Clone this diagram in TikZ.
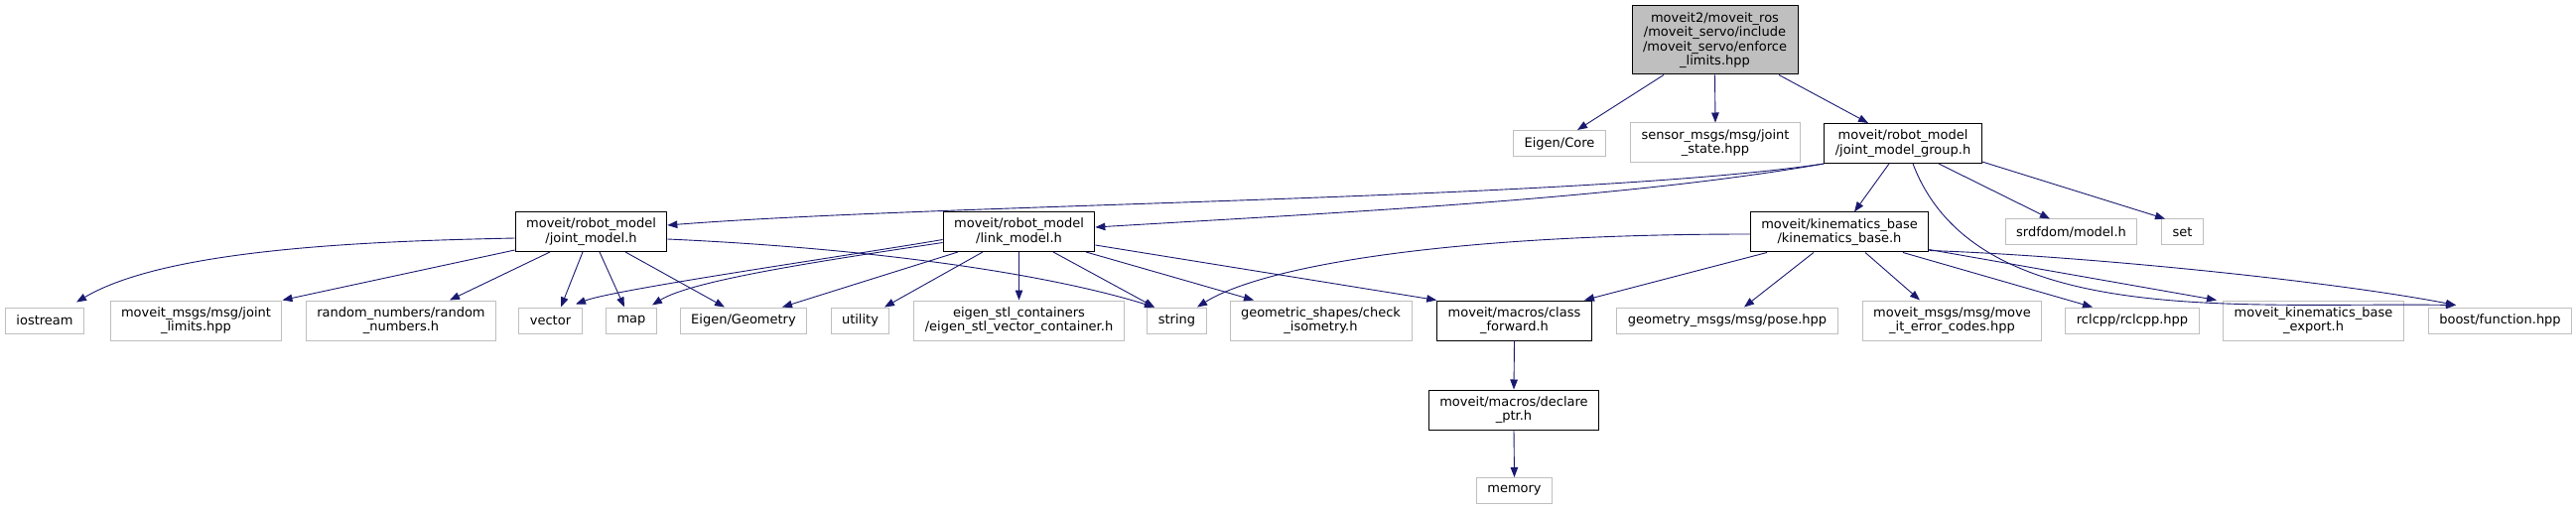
\documentclass[tikz,border=0pt]{standalone}
\usepackage{fontspec}
\setmainfont{DejaVu Sans}
\usetikzlibrary{arrows.meta}
\definecolor{edgeblue}{HTML}{191970}
\definecolor{extgray}{HTML}{BFBFBF}
\definecolor{rootgray}{HTML}{BFBFBF}

\begin{document}
\begin{tikzpicture}[x=1pt,y=-1pt]%
        \tikzset{%
            file/.style={rectangle, align=center, inner xsep=11pt, inner ysep=6pt,
                minimum height=26pt, line width=1pt, font=\fontsize{13}{14.3}\selectfont},
            two lines/.style={minimum height=40pt},
            doc file/.style={file, draw=black},
            ext file/.style={file, draw=extgray},
            dep/.style={draw=edgeblue, line width=0.9pt, -{Triangle[length=10pt,width=7.5pt]}},
        }%
        \useasboundingbox (0,0) rectangle (2595,513);
        % the header itself
        \node[doc file, fill=rootgray, minimum height=69pt] (root) at (1727.5,40.5)
            {moveit2/moveit\_ros\\/moveit\_servo/include\\/moveit\_servo/enforce\\\_limits.hpp};
        % first level
        \node[ext file] (core) at (1571,144.5) {Eigen/Core};
        \node[ext file, two lines] (sensor) at (1728,144) {sensor\_msgs/msg/joint\\\_state.hpp};
        \node[doc file, two lines] (jmg) at (1917,144.5) {moveit/robot\_model\\/joint\_model\_group.h};
        % second level
        \node[doc file, two lines] (jm) at (595.5,233.5) {moveit/robot\_model\\/joint\_model.h};
        \node[doc file, two lines] (lm) at (1026.5,233.5) {moveit/robot\_model\\/link\_model.h};
        \node[doc file, two lines] (kin) at (1853,234) {moveit/kinematics\_base\\/kinematics\_base.h};
        \node[ext file] (srdf) at (2086.5,234) {srdfdom/model.h};
        \node[ext file] (set) at (2198.5,234) {set};
        % third level
        \node[ext file] (iostream) at (45,323) {iostream};
        \node[ext file, two lines] (limits) at (197.5,323) {moveit\_msgs/msg/joint\\\_limits.hpp};
        \node[ext file, two lines] (random) at (404,323) {random\_numbers/random\\\_numbers.h};
        \node[ext file] (vector) at (554.5,323) {vector};
        \node[ext file] (map) at (636,323) {map};
        \node[ext file] (geometry) at (749,323) {Eigen/Geometry};
        \node[ext file] (utility) at (866.5,323) {utility};
        \node[ext file, two lines] (eigenstl) at (1026.5,323) {eigen\_stl\_containers\\/eigen\_stl\_vector\_container.h};
        \node[ext file] (string) at (1185.5,323) {string};
        \node[ext file, two lines] (isometry) at (1330.5,323) {geometric\_shapes/check\\\_isometry.h};
        \node[doc file, two lines] (classfwd) at (1525.5,323) {moveit/macros/class\\\_forward.h};
        \node[ext file] (pose) at (1740,323) {geometry\_msgs/msg/pose.hpp};
        \node[ext file, two lines] (errcodes) at (1966.5,323) {moveit\_msgs/msg/move\\\_it\_error\_codes.hpp};
        \node[ext file] (rclcpp) at (2148,323) {rclcpp/rclcpp.hpp};
        \node[ext file, two lines] (export) at (2330.5,323) {moveit\_kinematics\_base\\\_export.h};
        \node[ext file] (boost) at (2518.5,323) {boost/function.hpp};
        % macros chain
        \node[doc file, two lines] (declare) at (1525,413) {moveit/macros/declare\\\_ptr.h};
        \node[ext file] (memory) at (1525.5,494.5) {memory};

        % edges from the header
        \draw[dep] ([xshift=-51.5pt]root.south) -- ([xshift=18pt]core.north);
        \draw[dep] (root.south) -- (sensor.north);
        \draw[dep] ([xshift=64.5pt]root.south) -- ([xshift=-35pt]jmg.north);
        % joint_model_group.h
        \draw[dep] (jmg.south west) .. controls +(-240,36) and +(280,-22) .. ([yshift=6.5pt]jm.east);
        \draw[dep] (jmg.south west) .. controls +(-200,35) and +(250,-15) .. ([yshift=4.5pt]lm.east);
        \draw[dep] ([xshift=-14pt]jmg.south) -- ([xshift=15pt]kin.north);
        \draw[dep] ([xshift=36pt]jmg.south) -- ([xshift=-21.5pt]srdf.north);
        \draw[dep] ([yshift=2pt]jmg.south east) -- ([xshift=-17.5pt]set.north);
        \draw[dep] ([xshift=10pt]jmg.south) .. controls +(63,166) and +(-224,-3) .. ([xshift=-44.5pt,yshift=2pt]boost.north);
        % kinematics_base.h
        \draw[dep] ([yshift=-2pt]kin.west) .. controls +(-312,0) and +(64,-40) .. ([xshift=20.5pt]string.north);
        \draw[dep] ([xshift=-73pt]kin.south) -- ([xshift=70.5pt]classfwd.north);
        \draw[dep] ([xshift=-26pt]kin.south) -- ([xshift=17pt]pose.north);
        \draw[dep] ([xshift=26pt]kin.south) -- ([xshift=-32.5pt]errcodes.north);
        \draw[dep] ([xshift=64pt]kin.south) -- ([xshift=-40pt]rclcpp.north);
        \draw[dep] ([yshift=3pt]kin.south east) -- ([xshift=-97.5pt]export.north);
        \draw[dep] ([yshift=2pt]kin.south east) .. controls +(150,5) and +(-130,-25) .. ([xshift=-44.5pt,yshift=2pt]boost.north);
        % link_model.h
        \draw[dep] ([yshift=-8pt]lm.west) .. controls +(-100,17) and +(40,-15) .. ([xshift=25.5pt,yshift=3pt]vector.north);
        \draw[dep] ([yshift=-11pt]lm.west) .. controls +(-120,18) and +(40,-25) .. ([xshift=21pt,yshift=2pt]map.north);
        \draw[dep] ([xshift=-61.5pt]lm.south) -- ([xshift=39pt]geometry.north);
        \draw[dep] ([xshift=-36.5pt]lm.south) -- ([xshift=24.5pt]utility.north);
        \draw[dep] (lm.south) -- (eigenstl.north);
        \draw[dep] ([xshift=34.5pt]lm.south) -- ([xshift=-22.5pt]string.north);
        \draw[dep] ([xshift=67.5pt]lm.south) -- ([xshift=-67.5pt]isometry.north);
        \draw[dep] ([yshift=-13.5pt]lm.east) -- (classfwd.north west);
        % joint_model.h
        \draw[dep] ([yshift=-6.5pt]jm.west) .. controls +(-138,3) and +(93,-55) .. ([xshift=32pt,yshift=5pt]iostream.north);
        \draw[dep] ([yshift=2pt]jm.south west) -- (limits.north east);
        \draw[dep] ([xshift=-41.5pt]jm.south) -- ([xshift=49pt]random.north);
        \draw[dep] ([xshift=-8.5pt]jm.south) -- ([xshift=10.5pt]vector.north);
        \draw[dep] ([xshift=8.5pt]jm.south) -- ([xshift=-7pt]map.north);
        \draw[dep] ([xshift=34.5pt]jm.south) -- ([xshift=-19pt]geometry.north);
        \draw[dep] ([yshift=-7.5pt]jm.east) .. controls +(200,9) and +(-113,-35) .. ([xshift=-22.5pt]string.north);
        % macros
        \draw[dep] (classfwd.south) -- (declare.north);
        \draw[dep] (declare.south) -- (memory.north);
    \end{tikzpicture}
\end{document}
